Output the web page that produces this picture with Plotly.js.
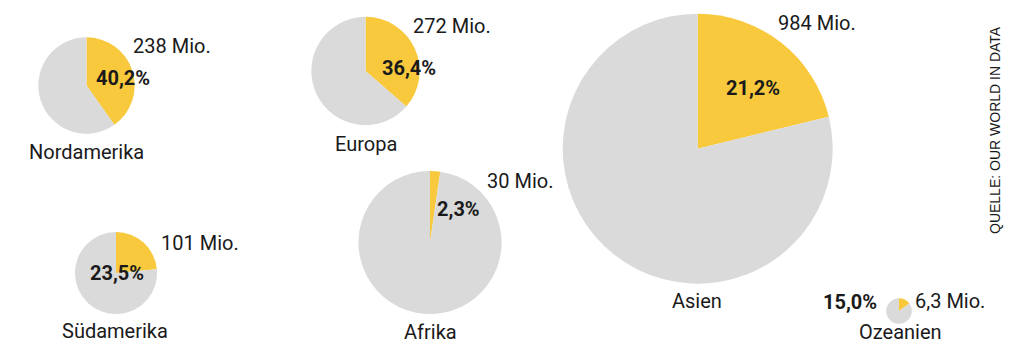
<!DOCTYPE html>
<html>
<head>
<meta charset="utf-8">
<script src="https://cdn.plot.ly/plotly-3.0.1.min.js"></script>
<style>html,body{margin:0;padding:0;background:#fff;}#chart{width:1024px;height:361px;}</style>
</head>
<body>
<div id="chart"></div>
<script>
// ---- data ----
const continents = ['Nordamerika', 'Europa', 'Südamerika', 'Afrika', 'Asien', 'Ozeanien'];
const sharePercent = [40.2, 36.4, 23.5, 2.3, 21.2, 15.0];
const absoluteMio = [238, 272, 101, 30, 984, 6.3];
const sourceText = 'QUELLE: OUR WORLD IN DATA';

// ---- layout (pixel positions) ----
const W = 1024, H = 361;
const centers = [[86.5, 85.5], [365.5, 71], [116, 273], [430, 242.5], [697.7, 148.7], [899, 311]];
const pctPos = [[123, 78], [409, 68], [117, 273], [458.7, 209], [753, 88], [879, 302]];
const pctAnchor = ['center', 'center', 'center', 'center', 'center', 'right'];
const absPos = [[131, 46], [411, 26], [159, 243], [485, 181], [776, 23], [913, 301]];
const namePos = [[86.5, 152], [366, 144], [114.5, 331], [430, 332], [697, 301], [900, 332]];
const K = 1.981; // px per sqrt(total Mio.)

const YELLOW = '#F8C93D', GREY = '#DADADA', INK = '#1a1a1a';
const FONT = 'Roboto, "Open Sans", sans-serif';
const fmt = v => String(v).replace('.', ',');

const traces = continents.map((name, i) => {
  const total = absoluteMio[i] * 100 / sharePercent[i];
  const r = K * Math.sqrt(total);
  const [cx, cy] = centers[i];
  return {
    type: 'pie',
    name: name,
    values: [sharePercent[i], 100 - sharePercent[i]],
    labels: ['Anteil', 'Rest'],
    marker: {colors: [YELLOW, GREY], line: {width: 0}},
    sort: false,
    direction: 'clockwise',
    rotation: 0,
    textinfo: 'none',
    hoverinfo: 'skip',
    domain: {
      x: [(cx - r) / W, (cx + r) / W],
      y: [1 - (cy + r) / H, 1 - (cy - r) / H]
    }
  };
});

const annotations = [];
continents.forEach((name, i) => {
  annotations.push({
    text: '<b>' + sharePercent[i].toFixed(1).replace('.', ',') + '%</b>',
    x: pctPos[i][0] / W, y: 1 - pctPos[i][1] / H, xref: 'paper', yref: 'paper',
    xanchor: pctAnchor[i], yanchor: 'middle', showarrow: false,
    font: {family: FONT, size: 20, color: INK}
  });
  annotations.push({
    text: fmt(absoluteMio[i]) + ' Mio.',
    x: absPos[i][0] / W, y: 1 - absPos[i][1] / H, xref: 'paper', yref: 'paper',
    xanchor: 'left', yanchor: 'middle', showarrow: false,
    font: {family: FONT, size: 20, color: INK}
  });
  annotations.push({
    text: name,
    x: namePos[i][0] / W, y: 1 - namePos[i][1] / H, xref: 'paper', yref: 'paper',
    xanchor: 'center', yanchor: 'middle', showarrow: false,
    font: {family: FONT, size: 20, color: INK}
  });
});
annotations.push({
  text: sourceText, textangle: -90,
  x: 995 / W, y: 1 - 130 / H, xref: 'paper', yref: 'paper',
  xanchor: 'center', yanchor: 'middle', showarrow: false,
  font: {family: '"Liberation Sans", Arial, sans-serif', size: 14, color: INK}
});

const layout = {
  width: W, height: H,
  margin: {l: 0, r: 0, t: 0, b: 0, pad: 0},
  paper_bgcolor: '#ffffff', plot_bgcolor: '#ffffff',
  showlegend: false,
  annotations: annotations
};

Plotly.newPlot('chart', traces, layout, {staticPlot: true, displayModeBar: false});
</script>
</body>
</html>
